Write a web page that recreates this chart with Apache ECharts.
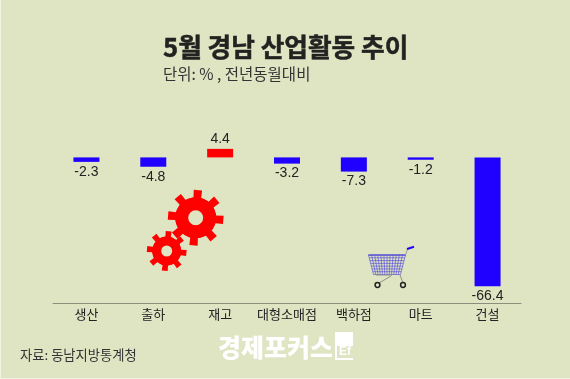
<!DOCTYPE html>
<html>
<head>
<meta charset="utf-8">
<title>5월 경남 산업활동 추이</title>
<style>
  html, body { margin: 0; padding: 0; background: #dfe5c3; }
  #chart { width: 570px; height: 379px; }
</style>
<script src="https://cdn.jsdelivr.net/npm/echarts@6/dist/echarts.min.js"></script>
</head>
<body>
<div id="chart"></div>
<script>
var categories = ['생산', '출하', '재고', '대형소매점', '백하점', '마트', '건설']
var values = [-2.3, -4.8, 4.4, -3.2, -7.3, -1.2, -66.4]

var BLUE = '#2000ff'
var RED = '#ff0000'
var KR = '"Noto Sans CJK KR", sans-serif'

// 톱니바퀴 꼭짓점 계산 (장식용)
function gearPoints(cx, cy, outer, root, teeth, rot) {
  var pts = []
  var step = Math.PI * 2 / teeth
  for (var i = 0; i < teeth; i++) {
    var a = rot + i * step
    var w = step * 0.2
    pts.push([cx + root * Math.sin(a - w * 1.2), cy - root * Math.cos(a - w * 1.2)])
    pts.push([cx + outer * Math.sin(a - w * 0.95), cy - outer * Math.cos(a - w * 0.95)])
    pts.push([cx + outer * Math.sin(a + w * 0.95), cy - outer * Math.cos(a + w * 0.95)])
    pts.push([cx + root * Math.sin(a + w * 1.2), cy - root * Math.cos(a + w * 1.2)])
  }
  return pts
}

function gear(cx, cy, outer, root, hole, rot) {
  return [
    { type: 'polygon', shape: { points: gearPoints(cx, cy, outer, root, 8, rot) }, style: { fill: RED } },
    { type: 'circle', shape: { cx: cx, cy: cy, r: root }, style: { fill: RED } },
    { type: 'circle', shape: { cx: cx, cy: cy, r: hole }, style: { fill: '#dfe5c3' } }
  ]
}

function line(x1, y1, x2, y2, color, width) {
  return {
    type: 'line',
    shape: { x1: x1, y1: y1, x2: x2, y2: y2 },
    style: { stroke: color, lineWidth: width }
  }
}

// 쇼핑카트
function cart() {
  var c = '#4a40d8'
  var items = []
  var left = 368.5, right = 405.5, top = 255, bottom = 274.5
  var inset = 5
  for (var i = 0; i <= 12; i++) {
    var t = i / 12
    items.push(line(left + (right - left) * t, top,
      left + inset + (right - left - inset * 2) * t, bottom, c, 0.6))
  }
  for (var j = 0; j <= 7; j++) {
    var s = j / 7
    var y = top + (bottom - top) * s
    items.push(line(left + inset * s, y, right - inset * s, y, c, 0.6))
  }
  items.push(line(left, top, right, top, '#3c30d8', 1))
  items.push(line(right, top, 407.5, 249, '#9a9aa0', 1))
  items.push(line(407, 249, 414, 246.8, BLUE, 2))
  items.push(line(400, 275, 403, 283, '#8f9088', 1))
  items.push(line(391, 276, 379, 283, '#8f9088', 1))
  items.push(line(376, 275, 392, 275, '#8f9088', 1))
  items.push({ type: 'circle', shape: { cx: 377.5, cy: 285, r: 2.4 }, style: { fill: '#dfe5c3', stroke: '#222', lineWidth: 1.5 } })
  items.push({ type: 'circle', shape: { cx: 403, cy: 285, r: 2.4 }, style: { fill: '#dfe5c3', stroke: '#222', lineWidth: 1.5 } })
  return items
}

var chart = echarts.init(document.getElementById('chart'), null, { renderer: 'canvas' })

chart.setOption({
  backgroundColor: '#dfe5c3',
  animation: false,
  title: [
    {
      text: '5월 경남 산업활동 추이',
      left: 158,
      top: 29,
      textStyle: {
        fontFamily: KR,
        fontSize: 25.7,
        fontWeight: 700,
        color: '#222320',
        textBorderColor: '#222320',
        textBorderWidth: 0.5
      }
    },
    {
      text: '단위: % , 전년동월대비',
      left: 158,
      top: 61,
      textStyle: { fontFamily: KR, fontSize: 15.5, fontWeight: 400, color: '#333' }
    }
  ],
  grid: { left: 53, right: 49, top: 138, bottom: 76 },
  xAxis: {
    type: 'category',
    data: categories,
    axisLine: { onZero: false, lineStyle: { color: '#8c8f7c', width: 1 } },
    axisTick: { show: false },
    axisLabel: { interval: 0, fontFamily: KR, fontSize: 13, color: '#222', margin: 5 }
  },
  yAxis: {
    type: 'value',
    min: -75,
    max: 10,
    show: false,
    splitLine: { show: false }
  },
  series: [
    {
      type: 'bar',
      barWidth: 26,
      data: values.map(function (v) {
        return {
          value: v,
          itemStyle: { color: v < 0 ? BLUE : RED },
          label: { position: v < 0 ? 'bottom' : 'top' }
        }
      }),
      label: {
        show: true,
        distance: 3,
        fontFamily: '"Liberation Sans", Arial, sans-serif',
        fontSize: 14,
        color: '#222'
      }
    }
  ],
  graphic: [].concat(
    gear(195.7, 217.7, 28, 20.5, 7.5, 0.08),
    gear(166.7, 251, 20, 14.5, 5.5, 0.1),
    cart(),
    [
      // 왼쪽, 아래 가장자리의 밝은 테두리
      { type: 'rect', shape: { x: 0, y: 0, width: 1, height: 379 }, style: { fill: '#f0f2e2' } },
      { type: 'rect', shape: { x: 0, y: 378, width: 570, height: 1 }, style: { fill: '#f0f2e2' } },
      {
        type: 'text', left: 20, top: 348,
        style: { text: '자료: 동남지방통계청', font: '13.3px ' + KR, fill: '#333' }
      },
      {
        type: 'text', left: 218, top: 335,
        style: { text: '경제포커스', font: '900 25px ' + KR, fill: '#ffffff' }
      },
      { type: 'rect', shape: { x: 335, y: 332, width: 18, height: 14 }, style: { fill: '#ffffff' } },
      { type: 'rect', shape: { x: 335, y: 346, width: 2, height: 14 }, style: { fill: '#ffffff' } },
      { type: 'rect', shape: { x: 335, y: 358, width: 18, height: 2 }, style: { fill: '#ffffff' } },
      {
        type: 'text', left: 339, top: 346,
        style: { text: 'Ef', font: '700 12px "Liberation Sans"', fill: '#ffffff' }
      }
    ]
  )
})
</script>
</body>
</html>
